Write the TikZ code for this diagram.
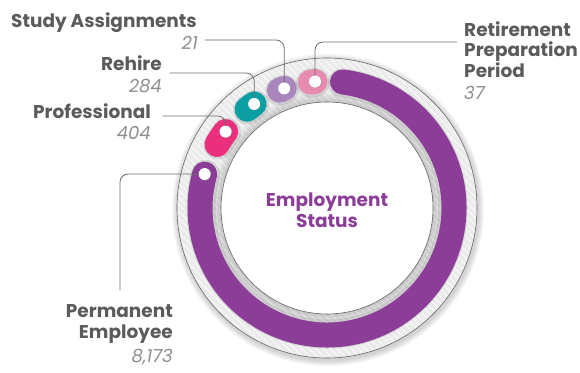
\documentclass[tikz,border=0pt]{standalone}
\usepackage{fontspec}
\setmainfont{Poppins}
\usetikzlibrary{calc,patterns.meta,shadows}
\definecolor{empPurple}{HTML}{8C3D98}
\definecolor{proPink}{HTML}{EA2F7D}
\definecolor{rehireTeal}{HTML}{0B9FA4}
\definecolor{studyLilac}{HTML}{A986BE}
\definecolor{retirePink}{HTML}{E88BB1}
\definecolor{ringGray}{HTML}{EBEBEB}
\definecolor{labGray}{HTML}{5B5B5B}
\definecolor{numGray}{HTML}{8E8E8E}
\begin{document}
\begin{tikzpicture}[x=1pt, y=1pt, line join=round, line cap=round,
	seg/.style={line width=25pt, line cap=round},
	segshadow/.style={line width=29pt, line cap=round, black, opacity=0.10},
	dot/.style={circle, fill=white, inner sep=0pt, minimum size=12pt,
		drop shadow={opacity=0.35, shadow xshift=0.6pt, shadow yshift=-0.8pt}},
	leader/.style={draw=labGray!90, line width=0.8pt, rounded corners=8pt},
	lab/.style={font=\bfseries\fontsize{18.5}{18.5}\selectfont, text=labGray, inner sep=0pt},
	num/.style={font=\itshape\fontsize{18}{18}\selectfont, text=numGray, inner sep=0pt}]
	\useasboundingbox (0,0) rectangle (580,372);
	\coordinate (c) at (327,164);
	% ring with its shadows
	\foreach \i in {1,...,6}
		\fill[black, opacity=0.03] ($(c)+(1,-2)$) circle (150+\i);
	\fill[ringGray] (c) circle (150);
	\fill[pattern={Lines[angle=-45, distance=5pt, line width=1pt]}, pattern color=white!100, opacity=0.7] (c) circle (150);
	\foreach \i in {1,...,8}
		\fill[black, opacity=0.018] (c) circle (106+\i*1.2);
	\draw[black!60, line width=0.6pt] (c) circle (150);
	\fill[white] (c) circle (106);
	\draw[black!60, line width=0.6pt] (c) circle (106);
	% segments
	\draw[segshadow] (c) ++(83:126) arc[start angle=83, end angle=-195.5, radius=126];
	\draw[seg, empPurple] (c) ++(83:127) arc[start angle=83, end angle=-195.5, radius=127];
	\draw[segshadow] (c) ++(143:126) arc[start angle=143, end angle=150, radius=126];
	\draw[seg, proPink] (c) ++(143:127) arc[start angle=143, end angle=150, radius=127];
	\draw[segshadow] (c) ++(125:126) arc[start angle=125, end angle=129, radius=126];
	\draw[seg, rehireTeal] (c) ++(125:127) arc[start angle=125, end angle=129, radius=127];
	\draw[segshadow] (c) ++(109.7:126) arc[start angle=109.7, end angle=112, radius=126];
	\draw[seg, studyLilac] (c) ++(109.7:127) arc[start angle=109.7, end angle=112, radius=127];
	\draw[segshadow] (c) ++(95.4:126) arc[start angle=95.4, end angle=97.5, radius=126];
	\draw[seg, retirePink] (c) ++(95.4:127) arc[start angle=95.4, end angle=97.5, radius=127];
	% dots
	\path (c) ++(164.5:127) node[dot] (perm) {};
	\path (c) ++(143:127) node[dot] (pro) {};
	\path (c) ++(125:127) node[dot] (rehire) {};
	\path (c) ++(109.7:127) node[dot] (study) {};
	\path (c) ++(95.4:127) node[dot] (retire) {};
	% leaders
	\draw[leader] (study) |- (205,332);
	\draw[leader] (rehire) |- (170,299);
	\draw[leader] (pro) |- (163,256);
	\draw[leader] (retire) |- (457,330);
	\draw[leader] (perm) -| (120,82);
	% labels
	\node[lab, anchor=base east] (studyLab) at (197,344) {Study Assignments};
	\node[num, anchor=base east] (studyNum) at (198,322) {21};
	\node[lab, anchor=base east] (rehireLab) at (162,301) {Rehire};
	\node[num, anchor=base east] (rehireNum) at (162,279) {284};
	\node[lab, anchor=base east] (proLab) at (151,253) {Professional};
	\node[num, anchor=base east] (proNum) at (151,232) {404};
	\node[lab, anchor=base west] (retireLab1) at (464,335) {Retirement};
	\node[lab, anchor=base west] (retireLab2) at (464,315) {Preparation};
	\node[lab, anchor=base west] (retireLab3) at (464,294) {Period};
	\node[num, anchor=base west] (retireNum) at (464,272) {37};
	\node[lab, anchor=base east] (permLab1) at (173,55) {Permanent};
	\node[lab, anchor=base east] (permLab2) at (173,34) {Employee};
	\node[num, anchor=base east] (permNum) at (173,10) {8,173};
	\node[lab, text=empPurple, anchor=base] (title1) at (327,165) {Employment};
	\node[lab, text=empPurple, anchor=base] (title2) at (327,144) {Status};
\end{tikzpicture}
\end{document}
